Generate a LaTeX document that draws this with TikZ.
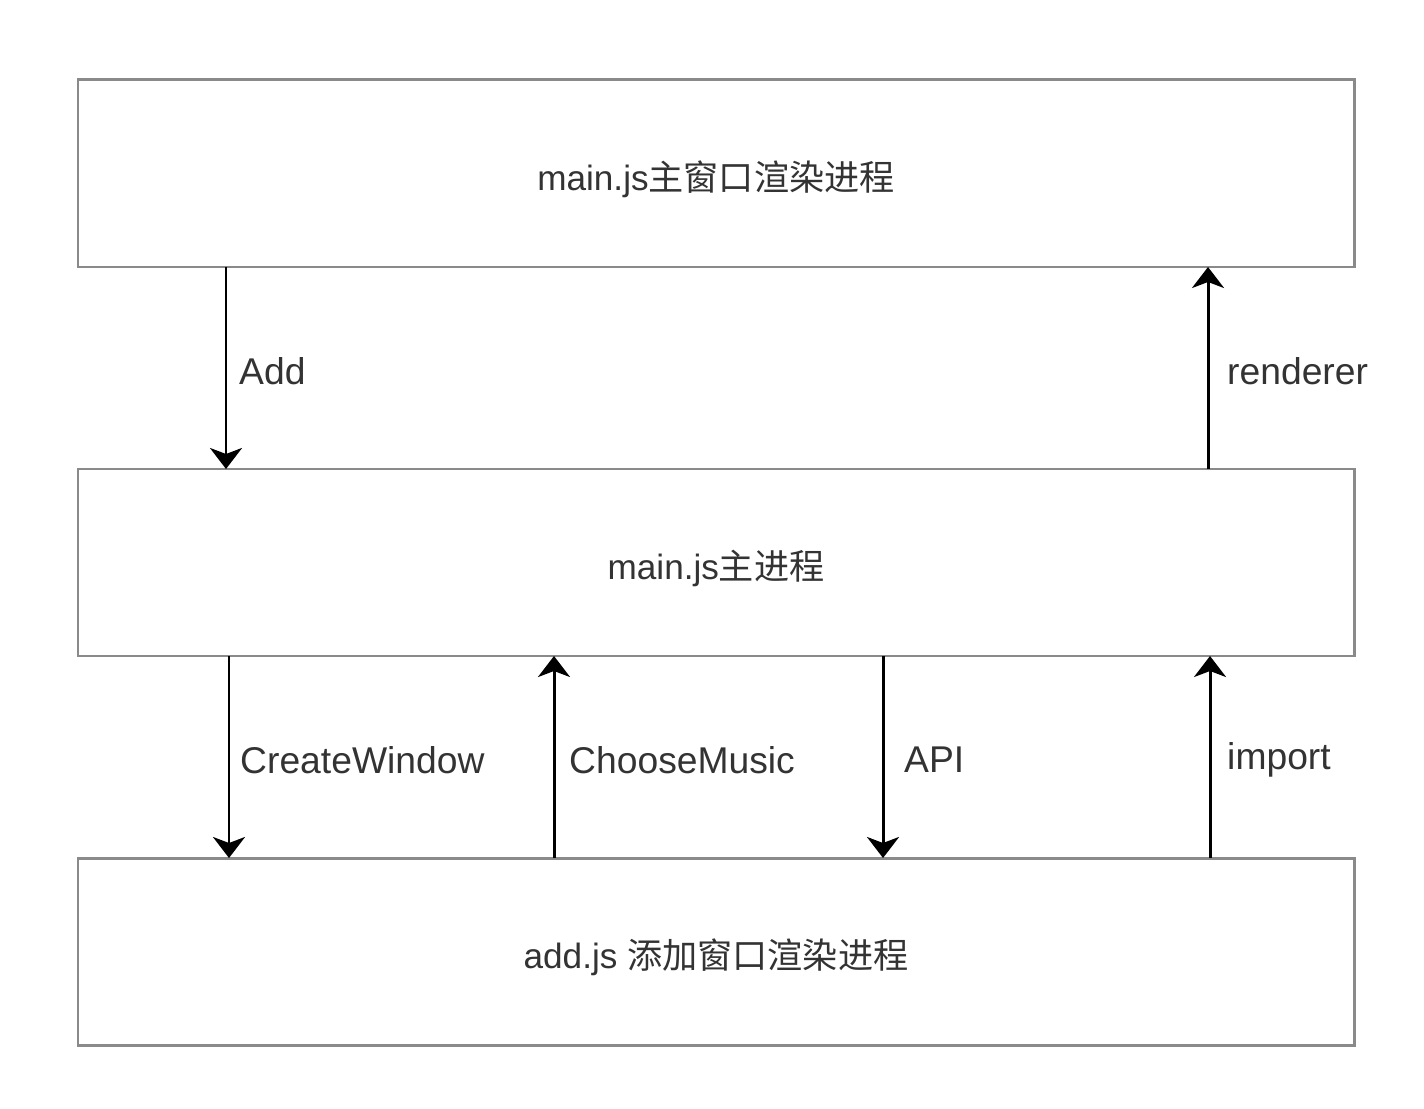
\documentclass[tikz,border=0pt]{standalone}
\usepackage{fontspec}
\setmainfont{Liberation Sans}
\newfontfamily\cjk{Noto Sans CJK SC}
\usetikzlibrary{positioning,arrows.meta}
\definecolor{boxgray}{HTML}{8A8A8A}
\definecolor{txtgray}{HTML}{333333}
\tikzset{
  procbox/.style={draw=boxgray,line width=0.85pt,minimum width=12.76cm,minimum height=1.87cm,
    outer sep=0pt,inner sep=0pt,text height=9.8pt,text depth=0pt,text=txtgray,
    font=\fontsize{10pt}{12pt}\selectfont},
  msg/.style={line width=0.85pt,-{Stealth[length=0.21cm,width=0.32cm,inset=0.06cm]}},
  msglabel/.style={midway,anchor=west,yshift=-0.03cm,text=txtgray,font=\fontsize{10.6pt}{12pt}\selectfont}
}
\begin{document}
\begin{tikzpicture}[x=1cm,y=1cm,node distance=2.02cm]
\useasboundingbox (0,0) rectangle (14.24,11.08);
% the three processes
\node[procbox] (render) at (7.16,9.345) {main.js{\cjk 主窗口渲染进程}};
\node[procbox,below=of render] (mainproc) {main.js{\cjk 主进程}};
\node[procbox,below=of mainproc] (addwin) {add.js {\cjk 添加窗口渲染进程}};
% render <-> main
\draw[msg] ([xshift=1.48cm]render.south west) -- ([xshift=1.48cm]mainproc.north west) node[msglabel] {Add};
\draw[msg] ([xshift=11.30cm]mainproc.north west) -- ([xshift=11.30cm]render.south west) node[msglabel,xshift=0.06cm] {renderer};
% main <-> add
\draw[msg] ([xshift=1.51cm]mainproc.south west) -- ([xshift=1.51cm]addwin.north west) node[msglabel,xshift=-0.02cm] {CreateWindow};
\draw[msg] ([xshift=4.76cm]addwin.north west) -- ([xshift=4.76cm]mainproc.south west) node[msglabel,xshift=0.02cm] {ChooseMusic};
\draw[msg] ([xshift=8.05cm]mainproc.south west) -- ([xshift=8.05cm]addwin.north west) node[msglabel,xshift=0.08cm] {API};
\draw[msg] ([xshift=11.32cm]addwin.north west) -- ([xshift=11.32cm]mainproc.south west) node[msglabel,xshift=0.04cm] {import};
\end{tikzpicture}
\end{document}
